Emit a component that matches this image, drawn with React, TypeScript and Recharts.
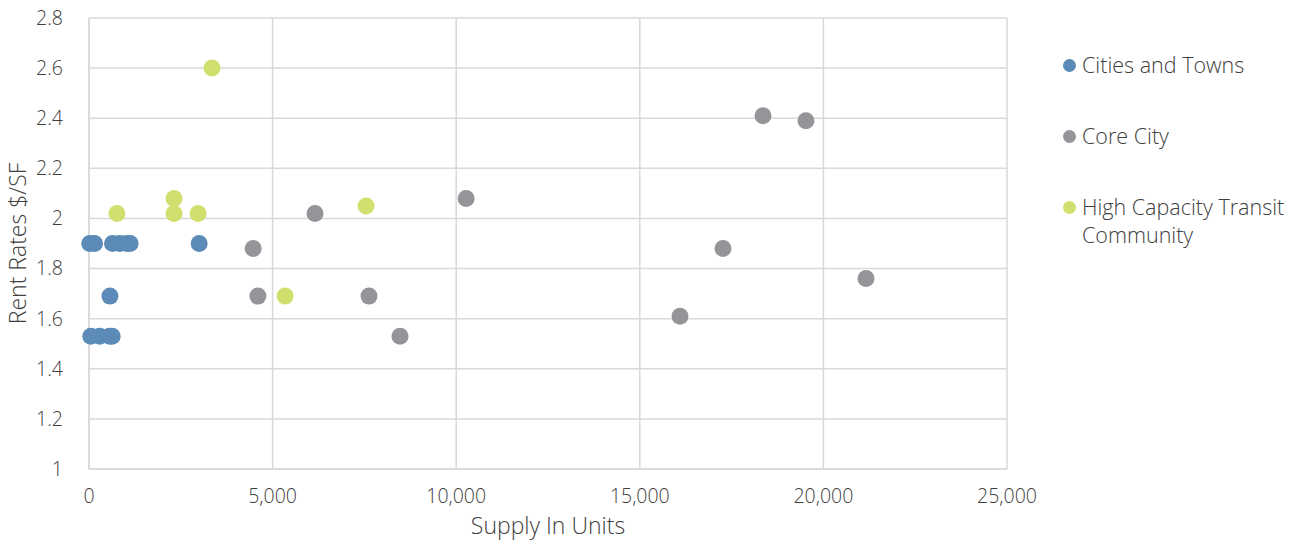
import React from "react";
import { ScatterChart, Scatter, XAxis, YAxis, CartesianGrid } from "recharts";

const citiesX = [20, 150, 640, 840, 1030, 1120, 3000, 570, 50, 290, 560, 630];
const citiesY = [1.9, 1.9, 1.9, 1.9, 1.9, 1.9, 1.9, 1.69, 1.53, 1.53, 1.53, 1.53];

const coreX = [4470, 4600, 6155, 7625, 8470, 10270, 16095, 17265, 18355, 19525, 21160];
const coreY = [1.88, 1.69, 2.02, 1.69, 1.53, 2.08, 1.61, 1.88, 2.41, 2.39, 1.76];

const transitX = [760, 2315, 2315, 2970, 3350, 5340, 7545];
const transitY = [2.02, 2.08, 2.02, 2.02, 2.6, 1.69, 2.05];

const seriesNames = ["Cities and Towns", "Core City", "High Capacity Transit Community"];
const seriesColors = ["#5b8bb6", "#939598", "#d1df6e"];

const xTicks = [0, 5000, 10000, 15000, 20000, 25000];
const yTicks = [1, 1.2, 1.4, 1.6, 1.8, 2, 2.2, 2.4, 2.6, 2.8];

const toPoints = (xs: number[], ys: number[]) => xs.map((x, i) => ({ x, y: ys[i] }));
const seriesData = [toPoints(citiesX, citiesY), toPoints(coreX, coreY), toPoints(transitX, transitY)];

const FONT = "'Open Sans', 'Segoe UI', sans-serif";
const TEXT = "#404040";

const Dot = (props: any) => {
  const { cx, cy, fill } = props;
  return <circle cx={cx} cy={cy} r={8.5} fill={fill} />;
};

const LegendBox = () => (
  <div
    style={{
      position: "absolute",
      left: 1063,
      top: 51,
      width: 232,
      fontFamily: FONT,
      fontSize: 21.5,
      color: TEXT,
      fontWeight: 300,
    }}
  >
    {seriesNames.map((name, i) => (
      <div key={name} style={{ display: "flex", alignItems: "flex-start", marginBottom: 43, lineHeight: "28px" }}>
        <span
          style={{
            display: "inline-block",
            width: 13,
            height: 13,
            borderRadius: "50%",
            background: seriesColors[i],
            marginTop: 8,
            marginRight: 6,
            flexShrink: 0,
          }}
        />
        <span style={{ width: 212 }}>{name}</span>
      </div>
    ))}
  </div>
);

export default function App() {
  return (
    <div style={{ width: 1298, height: 549, position: "relative", margin: "-8px 0 0 -8px" }}>
      <ScatterChart width={1298} height={549} margin={{ top: 18, right: 291, bottom: 0, left: 8 }}>
        <CartesianGrid stroke="#d9d9d9" strokeWidth={1.5} />
        <XAxis
          type="number"
          dataKey="x"
          domain={[0, 25000]}
          ticks={xTicks}
          interval={0}
          tickFormatter={(v: number) => v.toLocaleString("en-US")}
          tickLine={false}
          axisLine={{ stroke: "#d9d9d9", strokeWidth: 1.5 }}
          tick={{ fill: TEXT, fontSize: 19.5, fontFamily: FONT, fontWeight: 300 }}
          tickMargin={14}
          height={80}
          label={{
            value: "Supply In Units",
            position: "insideBottom",
            offset: 15,
            fill: TEXT,
            fontSize: 23,
            fontFamily: FONT,
            fontWeight: 300,
          }}
        />
        <YAxis
          type="number"
          dataKey="y"
          domain={[1, 2.8]}
          ticks={yTicks}
          interval={0}
          tickLine={false}
          axisLine={{ stroke: "#d9d9d9", strokeWidth: 1.5 }}
          tick={{ fill: TEXT, fontSize: 19.5, fontFamily: FONT, fontWeight: 300 }}
          tickMargin={20}
          width={81}
          label={{
            value: "Rent Rates $/SF",
            angle: -90,
            position: "insideLeft",
            offset: 10,
            style: { textAnchor: "middle" },
            fill: TEXT,
            fontSize: 23,
            fontFamily: FONT,
            fontWeight: 300,
          }}
        />
        {seriesNames.map((name, i) => (
          <Scatter
            key={name}
            name={name}
            data={seriesData[i]}
            fill={seriesColors[i]}
            shape={<Dot />}
            isAnimationActive={false}
          />
        ))}
      </ScatterChart>
      <LegendBox />
    </div>
  );
}
